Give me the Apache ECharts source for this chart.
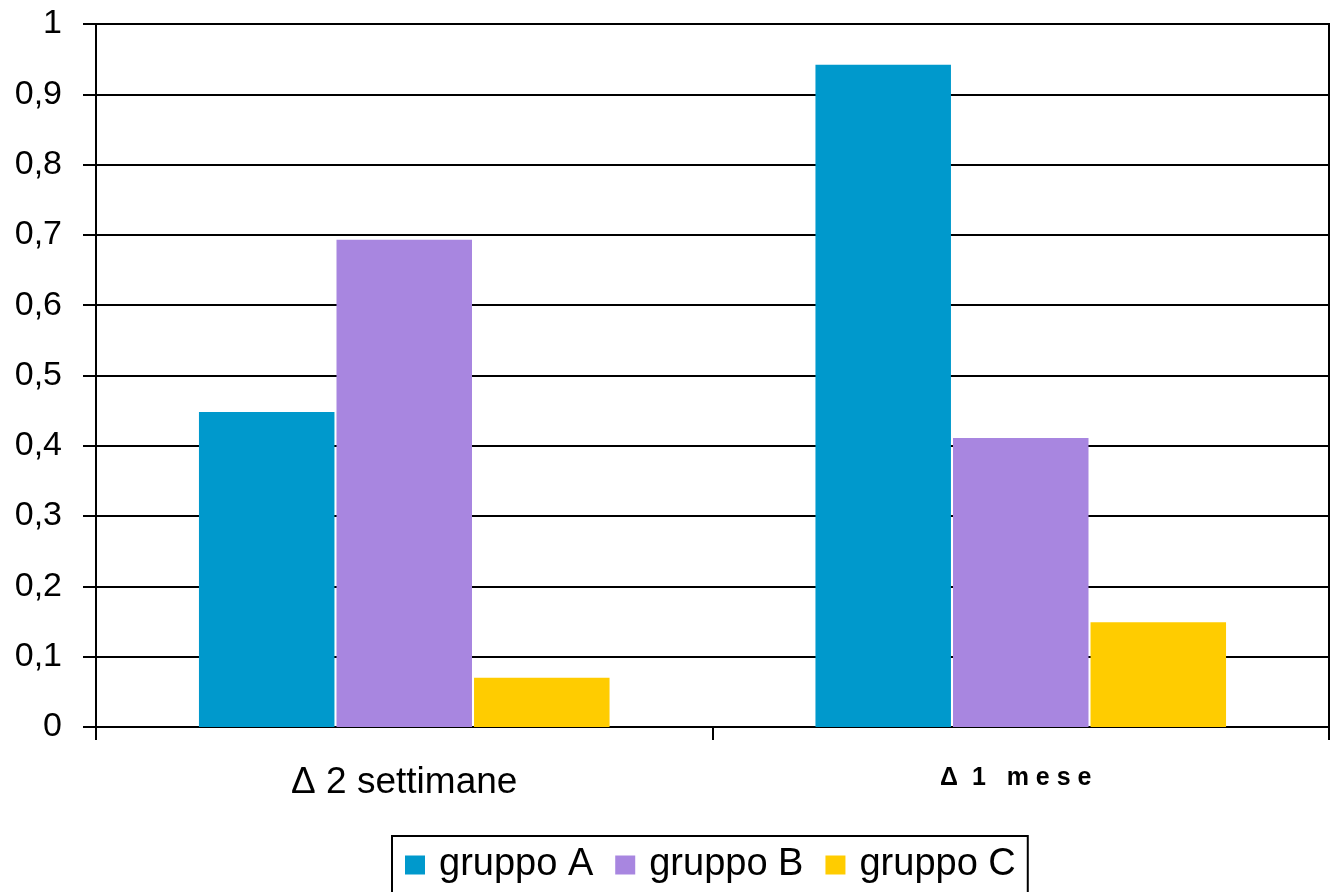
<!DOCTYPE html>
<html>
<head>
<meta charset="utf-8">
<script src="https://cdn.jsdelivr.net/npm/echarts@6/dist/echarts.min.js"></script>
<style>
  html, body { margin: 0; padding: 0; background: #fff; }
  #chart { width: 1335px; height: 892px; }
</style>
</head>
<body>
<div id="chart"></div>
<script>
// Variazione per gruppo a due intervalli di tempo
const categories = ['Δ 2 settimane', 'Δ 1 mese'];
const seriesNames = ['gruppo A', 'gruppo B', 'gruppo C'];
const gruppoA = [0.448, 0.942];
const gruppoB = [0.693, 0.411];
const gruppoC = [0.070, 0.149];
const seriesColors = ['#0099CC', '#A886E0', '#FFCC00'];

const chart = echarts.init(document.getElementById('chart'), null, { renderer: 'canvas' });

const FONT = 'Liberation Sans, Arial, sans-serif';

const option = {
  animation: false,
  backgroundColor: '#ffffff',
  textStyle: { fontFamily: FONT, color: '#000' },
  grid: {
    left: 96, right: 6, top: 24, bottom: 165,
    show: true, borderColor: '#000', borderWidth: 2, backgroundColor: 'transparent'
  },
  legend: {
    data: seriesNames,
    left: 392, top: 836,
    icon: 'rect',
    itemWidth: 20, itemHeight: 19, itemGap: 22,
    padding: [10, 12, 30, 13],
    borderColor: '#000', borderWidth: 2,
    textStyle: { fontFamily: FONT, fontSize: 38, color: '#000', padding: [0, 0, 0, 9] }
  },
  xAxis: {
    type: 'category',
    data: categories,
    axisLine: { show: true, lineStyle: { color: '#000', width: 2 } },
    axisTick: { show: true, length: 13, alignWithLabel: false, lineStyle: { color: '#000', width: 2 } },
    axisLabel: {
      margin: 36,
      interval: 0,
      formatter: function (v, i) {
        return i === 1 ? '{b|Δ  1   m e s e}' : '{a|' + v + '}';
      },
      rich: {
        a: { fontFamily: FONT, fontSize: 37, color: '#000', lineHeight: 40 },
        b: { fontFamily: FONT, fontSize: 25, fontWeight: 'bold', color: '#000', lineHeight: 30, padding: [0, 10, 0, 0] }
      }
    },
    splitLine: { show: false }
  },
  yAxis: {
    type: 'value',
    min: 0, max: 1, interval: 0.1,
    axisLine: { show: true, lineStyle: { color: '#000', width: 2 } },
    axisTick: { show: true, length: 13, inside: false, lineStyle: { color: '#000', width: 2 } },
    axisLabel: {
      margin: 34,
      fontFamily: FONT, fontSize: 34, color: '#000',
      formatter: function (v) {
        return String(Math.round(v * 10) / 10).replace('.', ',');
      }
    },
    splitLine: { show: true, lineStyle: { color: '#000', width: 2 } }
  },
  series: [
    { name: seriesNames[0], type: 'bar', data: gruppoA, itemStyle: { color: seriesColors[0] },
      barGap: '1.5%', barCategoryGap: '33.4%' },
    { name: seriesNames[1], type: 'bar', data: gruppoB, itemStyle: { color: seriesColors[1] },
      barGap: '1.5%', barCategoryGap: '33.4%' },
    { name: seriesNames[2], type: 'bar', data: gruppoC, itemStyle: { color: seriesColors[2] },
      barGap: '1.5%', barCategoryGap: '33.4%' }
  ]
};

chart.setOption(option);
</script>
</body>
</html>
